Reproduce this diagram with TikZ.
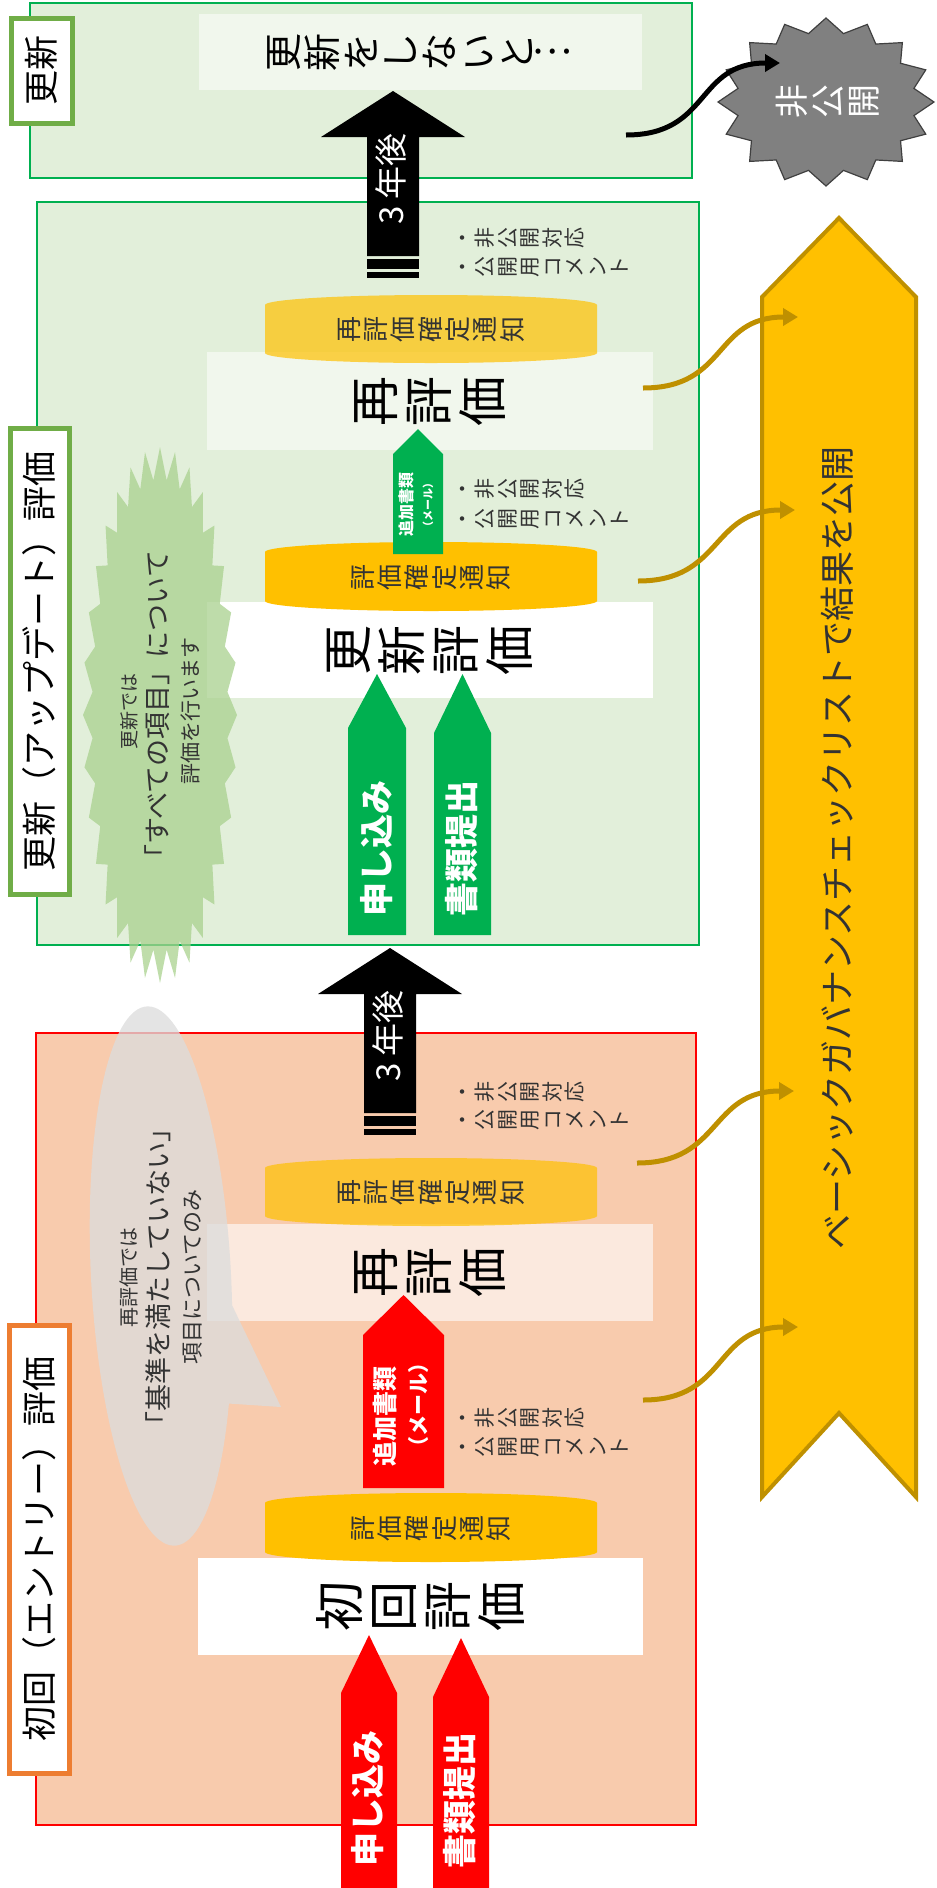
\documentclass[tikz,border=0pt]{standalone}
\usepackage{fontspec}
\setmainfont{Noto Sans CJK JP}
\usetikzlibrary{arrows.meta}

\definecolor{midori}{HTML}{E2EFDA}
\definecolor{midorisen}{HTML}{00B050}
\definecolor{momo}{HTML}{F8CBAD}
\definecolor{akasen}{HTML}{FF0000}
\definecolor{tagmidori}{HTML}{70AD47}
\definecolor{tagdaidai}{HTML}{ED7D31}
\definecolor{kin}{HTML}{FFC000}
\definecolor{kogane}{HTML}{BF9000}
\definecolor{usumidori}{HTML}{F1F7ED}
\definecolor{usumomo}{HTML}{FBE9DE}
\definecolor{nezumi}{HTML}{808080}
\definecolor{kumoiro}{HTML}{A9D18E}
\definecolor{fukiiro}{HTML}{DCDCDC}
\definecolor{sumi}{HTML}{333333}

\begin{document}
\begin{tikzpicture}[x=1pt, y=-1pt]
\tikzstyle{tate}=[rotate=90, align=center, inner sep=0pt]
\tikzstyle{secttag}=[tate, draw, line width=5pt, fill=white,
                     font=\fontsize{35}{40}\selectfont]
\tikzstyle{bigtext}=[tate, font=\fontsize{50}{54}\selectfont]
\tikzstyle{tsuuchi}=[tate, text=sumi, font=\fontsize{26}{27.3}\selectfont]
\tikzstyle{memo}=[tate, anchor=north, text=sumi, font=\fontsize{21}{22.5}\selectfont]
\tikzstyle{yajirusi}=[tate, text=white, font=\bfseries\fontsize{34}{40}\selectfont]
\tikzstyle{kinsen}=[draw=kogane, line width=5pt, -{Triangle[length=15pt,width=17pt]}]
\tikzstyle{kurosen}=[draw=black, line width=5pt, -{Triangle[length=15pt,width=17pt]}]

\useasboundingbox (0,0) rectangle (937,1888);

% sections
\draw[draw=midorisen, fill=midori, line width=1.5pt] (30,3) rectangle (692,178);
\draw[draw=midorisen, fill=midori, line width=1.5pt] (37,202) rectangle (699,945);
\draw[draw=akasen, fill=momo, line width=1.5pt] (36,1033) rectangle (696,1825);

% banner
\draw[draw=kogane, fill=kin, line width=4pt] (762,297) -- (839,218) -- (916,297)
  -- (916,1497) -- (839,1413) -- (762,1497) -- cycle;
\node[tate, text=sumi, font=\fontsize{35}{40}\selectfont] (kokai) at (837,848)
  {ベーシックガバナンスチェックリストで結果を公開};

% tags
\node[secttag, draw=tagmidori, minimum width=105, minimum height=61] (tag-koushin) at (41.5,70.5) {更新};
\node[secttag, draw=tagmidori, minimum width=466, minimum height=59] (tag-update) at (39.5,661) {更新（アップデート）評価};
\node[secttag, draw=tagdaidai, minimum width=448, minimum height=60] (tag-entry) at (39,1549) {初回（エントリー）評価};

% boxes
\node[bigtext, fill=usumidori, minimum width=76, minimum height=443, font=\fontsize{38}{39}\selectfont]
  (shinai) at (420.5,52) {更\\新\\を\\し\\な\\い\\と\\\rotatebox{90}{…}};
\node[bigtext, fill=usumidori, minimum width=98, minimum height=446] (saihyouka-2) at (430,401) {再\\評\\価};
\node[bigtext, fill=white, minimum width=96, minimum height=446] (koushin-hyouka) at (430,650) {更\\新\\評\\価};
\node[bigtext, fill=usumomo, minimum width=97, minimum height=446] (saihyouka-1) at (430,1272.5) {再\\評\\価};
\node[bigtext, fill=white, minimum width=97, minimum height=445] (shokai-hyouka) at (420.5,1606.5) {初\\回\\評\\価};

% notices
\foreach \yt/\yb/\op in {295/363/0.7, 542/611/1, 1158/1226/0.7, 1493/1562/1}
  \fill[kin, fill opacity=\op] (265,{\yt+10}) arc[start angle=180, end angle=360, x radius=166, y radius=10]
    -- (597,{\yb-10}) arc[start angle=0, end angle=180, x radius=166, y radius=10] -- cycle;
\node[tsuuchi] (kakutei-4) at (431,329) {再\\評\\価\\確\\定\\通\\知};
\node[tsuuchi] (kakutei-3) at (431,577) {評\\価\\確\\定\\通\\知};
\node[tsuuchi] (kakutei-2) at (431,1192) {再\\評\\価\\確\\定\\通\\知};
\node[tsuuchi] (kakutei-1) at (431,1528) {評\\価\\確\\定\\通\\知};

\foreach \ya/\yb [count=\n] in {238/267, 489/519, 1092/1120, 1418/1447} {
  \node[memo] (memo\n-a) at (460,\ya) {・\\非\\公\\開\\対\\応};
  \node[memo] (memo\n-b) at (460,\yb) {・\\公\\開\\用\\コ\\メ\\ン\\ト};
}

% block arrows
\foreach \xl/\xr/\yt/\ys/\yb/\col in {393/443/429/454/554/midorisen, 348/406/674/728/935/midorisen,
    434/491/674/733/935/midorisen, 363/444/1295/1335/1488/akasen,
    341/397/1635/1693/1888/akasen, 433/489/1638/1697/1888/akasen}
  \fill[\col] (\xl,\yb) -- (\xl,\ys) -- ({(\xl+\xr)/2},\yt) -- (\xr,\ys) -- (\xr,\yb) -- cycle;
\node[yajirusi, font=\bfseries\fontsize{16}{20}\selectfont] (tsuika-2) at (406,504) {追加書類};
\node[yajirusi, font=\bfseries\fontsize{11}{14}\selectfont] (mail-2) at (428,505) {（メール）};
\node[yajirusi] (moushikomi-2) at (377,848) {申し込み};
\node[yajirusi] (shorui-2) at (462,848) {書類提出};
\node[yajirusi, font=\bfseries\fontsize{25}{30}\selectfont] (tsuika-1) at (385,1416) {追加書類};
\node[yajirusi, font=\bfseries\fontsize{21}{26}\selectfont] (mail-1) at (419,1405) {（メール）};
\node[yajirusi] (moushikomi-1) at (368,1798) {申し込み};
\node[yajirusi] (shorui-1) at (460,1800) {書類提出};

\foreach \tx/\ty in {393/91, 390/948} {
  \fill[black] ({\tx-26},{\ty+165}) -- ({\tx-26},{\ty+46}) -- ({\tx-72},{\ty+46}) -- (\tx,\ty)
    -- ({\tx+72},{\ty+46}) -- ({\tx+26},{\ty+46}) -- ({\tx+26},{\ty+165}) -- cycle;
  \fill[black] ({\tx-26},{\ty+168}) rectangle ({\tx+26},{\ty+178});
  \fill[black] ({\tx-26},{\ty+181}) rectangle ({\tx+26},{\ty+187});
  \node[yajirusi, font=\fontsize{33}{40}\selectfont] (sannen-\ty) at ({\tx-2},{\ty+88}) {3 年後};
}

% star
\draw[fill=nezumi, draw=black!75, line width=1.2pt] (826,18)
  \foreach \i in {1,...,31} { -- ({826+108*(0.915+0.085*cos(180*\i))*cos(90+11.25*\i)},
                               {102-84*(0.915+0.085*cos(180*\i))*sin(90+11.25*\i)}) } -- cycle;
\node[tate, text=white, font=\fontsize{34}{36}\selectfont] (hikoukai) at (828,101) {非\\公\\開};

% cloud and callout
\fill[kumoiro, fill opacity=0.75] (160,447)
  \foreach \i in {1,...,63} { -- ({160+77*(0.94+0.06*cos(180*\i))*sin(5.625*\i)},
                               {715-268*(0.94+0.06*cos(180*\i))*cos(5.625*\i)}) } -- cycle;
\node[tate, text=sumi, font=\fontsize{27}{31}\selectfont] (kumo-text) at (160,711)
  {{\fontsize{19}{31}\selectfont 更新では}\\「すべての項目」について\\{\fontsize{21}{31}\selectfont 評価を行います}};

\fill[fukiiro, fill opacity=0.77] plot[domain=29:367, samples=120]
  ({161+70*cos(\x)*0.9987+270*sin(\x)*0.0519}, {1276-70*cos(\x)*0.0519+270*sin(\x)*0.9987})
  -- (281,1407) -- cycle;
\node[tate, text=sumi, font=\fontsize{27}{32}\selectfont] (fuki-text) at (161,1277)
  {{\fontsize{20}{32}\selectfont 再評価では}\\「基準を満たしていない」\\{\fontsize{22}{32}\selectfont 項目についてのみ}};

% connectors
\coordinate (kuro-s) at (626,135);
\coordinate (kuro-e) at (780,63);
\draw[kurosen] (kuro-s) .. controls +(85,0) and +(-85,0) .. (kuro-e);
\coordinate (ki-s1) at (643,388);  \coordinate (ki-e1) at (798,317);
\coordinate (ki-s2) at (638,581);  \coordinate (ki-e2) at (795,510);
\coordinate (ki-s3) at (637,1163); \coordinate (ki-e3) at (794,1091);
\coordinate (ki-s4) at (643,1400); \coordinate (ki-e4) at (798,1327);
\foreach \i in {1,...,4}
  \draw[kinsen] (ki-s\i) .. controls +(85,0) and +(-85,0) .. (ki-e\i);
\end{tikzpicture}
\end{document}
